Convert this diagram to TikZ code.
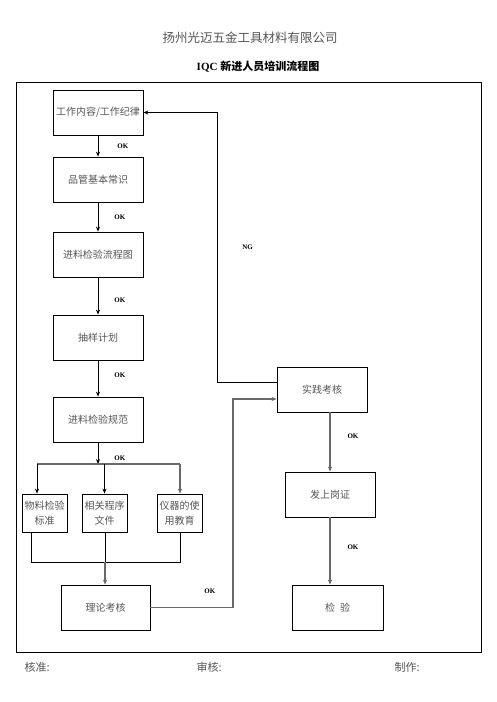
\documentclass[tikz,border=0pt]{standalone}
\usepackage{fontspec}
\setmainfont{Liberation Serif}
\newfontfamily\cjk{Noto Sans CJK SC}
\usepackage{xcolor}
\usepackage{tikz}
\usetikzlibrary{arrows.meta, positioning, calc}
\definecolor{textgray}{RGB}{85, 85, 85}
\definecolor{linegray}{RGB}{105, 105, 105}
\tikzset{
    stepbox/.style={draw, line width=0.8pt, minimum width=90pt, minimum height=45pt,
        inner sep=0pt, text=textgray, font=\cjk\fontsize{10}{15}\selectfont},
    smallbox/.style={stepbox, minimum width=45pt, minimum height=38pt, align=center},
    oklabel/.style={font=\bfseries\fontsize{7}{8}\selectfont, inner sep=0pt, text=black},
    flow/.style={->, line width=0.8pt},
    grayflow/.style={->, line width=1.1pt, linegray}
}

\begin{document}
\begin{tikzpicture}[x=1pt, y=-1pt, >={Stealth[length=5pt, width=4pt]}]
    \useasboundingbox (0,0) rectangle (496,702);
    % header
    \node[text=textgray, font=\cjk\fontsize{12.5}{14}\selectfont] (company) at (250,38) {扬州光迈五金工具材料有限公司};
    \node[font=\fontsize{11}{13}\selectfont] (title) at (258,67) {\textbf{IQC} {\cjk\bfseries 新进人员培训流程图}};
    \draw[line width=0.9pt] (16,82) rectangle (481,652);

    % left column
    \node[stepbox] (work) at (98,112.5) {工作内容/工作纪律};
    \node[stepbox] (basic) at (98,179.5) {品管基本常识};
    \node[stepbox] (flowchart) at (98,254.5) {进料检验流程图};
    \node[stepbox] (sampling) at (98,337.5) {抽样计划};
    \node[stepbox] (spec) at (98,419.5) {进料检验规范};

    \draw[flow] (work) -- (basic) node[oklabel, midway, right=19pt] {OK};
    \draw[flow] (basic) -- (flowchart) node[oklabel, midway, right=16pt] {OK};
    \draw[flow] (flowchart) -- (sampling) node[oklabel, pos=0.6, right=16pt] {OK};
    \draw[flow] (sampling) -- (spec) node[oklabel, pos=0.4, right=16pt] {OK};

    % branch into three documents
    \node[smallbox] (material) at (44.5,513) {物料检验\\标准};
    \node[smallbox] (procedure) at (104.5,513) {相关程序\\文件};
    \node[smallbox] (instrument) at (179.5,513) {仪器的使\\用教育};
    \coordinate (branch) at (98,464);
    \coordinate (branchl) at (37,464);
    \coordinate (branchr) at (180,464);
    \draw[flow] (spec) -- (branch) node[oklabel, pos=0.75, right=16pt] {OK};
    \draw[line width=1.1pt, linegray] (branchl) -- (branchr);
    \draw[flow] (branchl) -- (branchl |- material.north);
    \draw[flow] (procedure.north |- branch) -- (procedure);
    \draw[grayflow] (branchr) -- (branchr |- instrument.north);

    % merge into theory test
    \node[stepbox, minimum width=89pt] (theory) at (105.5,607.5) {理论考核};
    \coordinate (mergel) at (31,562);
    \coordinate (merger) at (180,562);
    \coordinate (merge) at (105,562);
    \draw[line width=0.8pt] (mergel |- material.south) -- (mergel) -- (merger) -- (merger |- instrument.south);
    \draw[line width=0.8pt] (merge |- procedure.south) -- (merge);
    \draw[grayflow] (merge) -- (merge |- theory.north);

    % right column
    \node[stepbox] (practice) at (322,389.5) {实践考核};
    \node[stepbox] (license) at (330,494.5) {发上岗证};
    \node[stepbox, minimum width=91pt] (inspect) at (337.5,607.5) {检\enspace 验};

    \coordinate (okturn) at (233,399);
    \draw[grayflow] (theory.east) -| node[oklabel, pos=0.36, above=13pt] {OK} (okturn)
        -- (okturn -| practice.west);
    \coordinate (ngturn) at (217,112.5);
    \draw[flow] ([yshift=7.5pt]practice.west) -| node[oklabel, pos=0.75, right=25pt] {NG} (ngturn)
        -- (work.east);
    \draw[grayflow] (practice.south -| license) -- (license) node[oklabel, pos=0.4, right=17pt] {OK};
    \draw[grayflow] (license) -- (license |- inspect.north) node[oklabel, pos=0.45, right=17pt] {OK};

    % footer
    \node[anchor=west, text=textgray, font=\cjk\fontsize{11}{13}\selectfont] (approve) at (21,667) {核准:};
    \node[anchor=west, text=textgray, font=\cjk\fontsize{11}{13}\selectfont] (review) at (193,667) {审核:};
    \node[anchor=west, text=textgray, font=\cjk\fontsize{11}{13}\selectfont] (maker) at (391,667) {制作:};
\end{tikzpicture}
\end{document}
